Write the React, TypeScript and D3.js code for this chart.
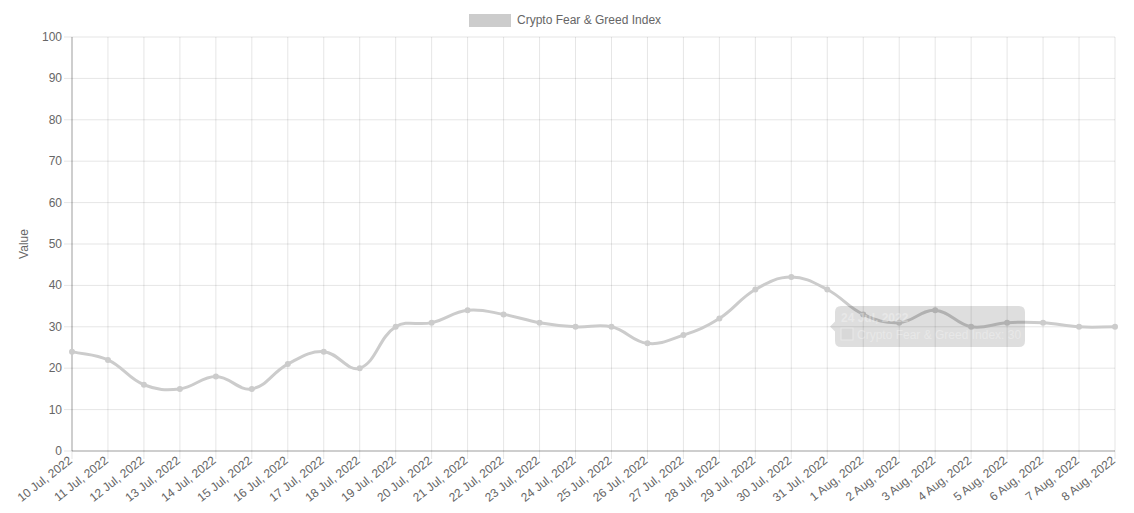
import React from "react";
import * as d3 from "d3";

const labels = [
  "10 Jul, 2022","11 Jul, 2022","12 Jul, 2022","13 Jul, 2022","14 Jul, 2022","15 Jul, 2022",
  "16 Jul, 2022","17 Jul, 2022","18 Jul, 2022","19 Jul, 2022","20 Jul, 2022","21 Jul, 2022",
  "22 Jul, 2022","23 Jul, 2022","24 Jul, 2022","25 Jul, 2022","26 Jul, 2022","27 Jul, 2022",
  "28 Jul, 2022","29 Jul, 2022","30 Jul, 2022","31 Jul, 2022","1 Aug, 2022","2 Aug, 2022",
  "3 Aug, 2022","4 Aug, 2022","5 Aug, 2022","6 Aug, 2022","7 Aug, 2022","8 Aug, 2022",
];
const values = [24,22,16,15,18,15,21,24,20,30,31,34,33,31,30,30,26,28,32,39,42,39,33,31,34,30,31,31,30,30];
const yTicks = [0,10,20,30,40,50,60,70,80,90,100];
const seriesName = "Crypto Fear & Greed Index";
const tooltipTitle = "24 Jul, 2022";
const tooltipBody = "Crypto Fear & Greed Index: 30";

const W = 1134, H = 513;
const left = 72, right = 1115, top = 37, bottom = 451;
const font = "'Liberation Sans', Arial, Helvetica, sans-serif";

function splinePath(pts: [number, number][], t: number) {
  const p = d3.path();
  const cps = pts.map((cur, i) => {
    const prev = pts[i - 1] || cur;
    const next = pts[i + 1] || cur;
    const d01 = Math.hypot(cur[0] - prev[0], cur[1] - prev[1]);
    const d12 = Math.hypot(next[0] - cur[0], next[1] - cur[1]);
    const s01 = d01 / (d01 + d12 || 1);
    const s12 = d12 / (d01 + d12 || 1);
    const fa = t * s01, fb = t * s12;
    return {
      prev: [cur[0] - fa * (next[0] - prev[0]), cur[1] - fa * (next[1] - prev[1])],
      next: [cur[0] + fb * (next[0] - prev[0]), cur[1] + fb * (next[1] - prev[1])],
    };
  });
  pts.forEach((pt, i) => {
    if (i === 0) p.moveTo(pt[0], pt[1]);
    else {
      const a = cps[i - 1].next, b = cps[i].prev;
      p.bezierCurveTo(a[0], a[1], b[0], b[1], pt[0], pt[1]);
    }
  });
  return p.toString();
}

export default function App() {
  const x = d3.scalePoint<string>().domain(labels).range([left, right]);
  const y = d3.scaleLinear().domain([0, 100]).range([bottom, top]);
  const pts: [number, number][] = values.map((v, i) => [x(labels[i])!, y(v)]);
  const path = splinePath(pts, 0.4);

  const tipX = 835, tipY = 306, tipW = 190, tipH = 41;
  return (
    <svg width={W} height={H} style={{ position: "absolute", left: 0, top: 0 }}>
      <rect width={W} height={H} fill="#fff" />
      {/* legend */}
      <rect x={469} y={14} width={42} height={13} fill="#cccccc" />
      <text x={517} y={24} fontFamily={font} fontSize={12} fill="#666">{seriesName}</text>
      {/* grid */}
      {yTicks.map((t) => (
        <g key={t}>
          <line x1={left - 8} x2={right} y1={y(t)} y2={y(t)} stroke="rgba(0,0,0,0.1)" />
          <text x={left - 10} y={y(t) + 4} textAnchor="end" fontFamily={font} fontSize={12} fill="#666">{t}</text>
        </g>
      ))}
      {labels.map((l) => (
        <g key={l}>
          <line x1={x(l)} x2={x(l)} y1={top} y2={bottom + 8} stroke="rgba(0,0,0,0.1)" />
          <text
            transform={`translate(${x(l)! + 1},${bottom + 11}) rotate(-38)`}
            textAnchor="end"
            fontFamily={font}
            fontSize={12}
            fill="#666"
          >{l}</text>
        </g>
      ))}
      <line x1={left} x2={left} y1={top} y2={bottom} stroke="rgba(0,0,0,0.3)" />
      <line x1={left} x2={right} y1={bottom} y2={bottom} stroke="rgba(0,0,0,0.3)" />
      <text transform={`translate(28,${(top + bottom) / 2}) rotate(-90)`} textAnchor="middle" fontFamily={font} fontSize={12} fill="#666">Value</text>
      {/* line */}
      <path d={path} fill="none" stroke="#cccccc" strokeWidth={3} />
      {pts.map((p, i) => (
        <circle key={i} cx={p[0]} cy={p[1]} r={3} fill="#cccccc" />
      ))}
      {/* fading tooltip */}
      <g>
        <path
          d={`M${tipX + 6},${tipY} H${tipX + tipW - 6} Q${tipX + tipW},${tipY} ${tipX + tipW},${tipY + 6} V${tipY + tipH - 6} Q${tipX + tipW},${tipY + tipH} ${tipX + tipW - 6},${tipY + tipH} H${tipX + 6} Q${tipX},${tipY + tipH} ${tipX},${tipY + tipH - 6} V${tipY + tipH / 2 + 5} L${tipX - 5},${tipY + tipH / 2} L${tipX},${tipY + tipH / 2 - 5} V${tipY + 6} Q${tipX},${tipY} ${tipX + 6},${tipY} Z`}
          fill="rgba(0,0,0,0.13)"
        />
        <g opacity={0.3}>
          <text x={tipX + 6} y={tipY + 16} fontFamily={font} fontSize={12} fontWeight="bold" fill="#fff">{tooltipTitle}</text>
          <rect x={tipX + 6} y={tipY + 22} width={12} height={12} fill="#cccccc" stroke="#fff" />
          <text x={tipX + 22} y={tipY + 33} fontFamily={font} fontSize={12} fill="#fff">{tooltipBody}</text>
        </g>
      </g>
    </svg>
  );
}
